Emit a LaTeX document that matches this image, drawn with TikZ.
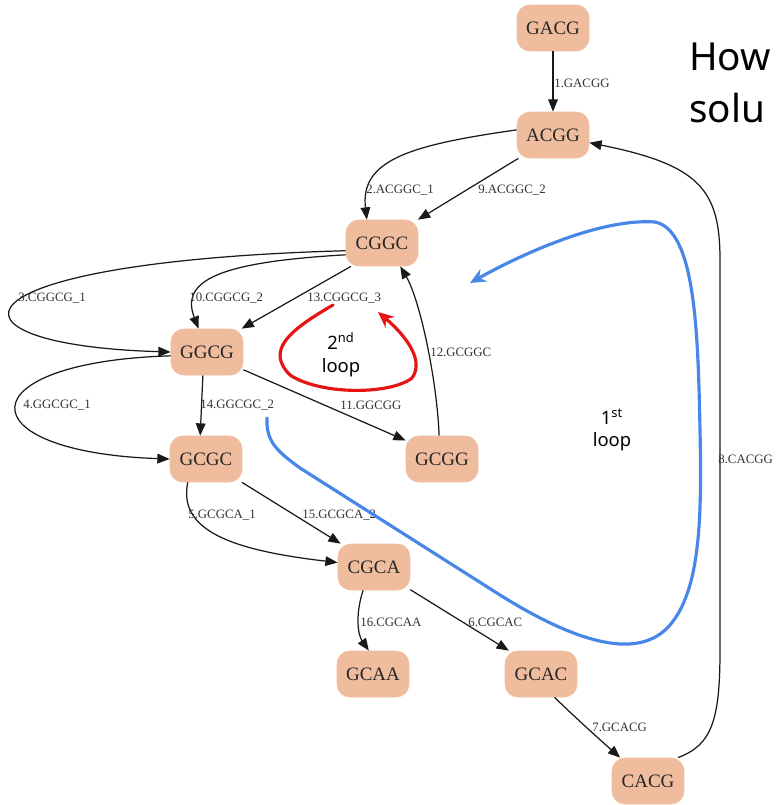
\documentclass[tikz,border=0pt]{standalone}
\usepackage{fontspec}
\setmainfont{Liberation Serif}
\newfontfamily\loopfont{Noto Sans}
\usepackage{xcolor}
\usetikzlibrary{arrows.meta}
\definecolor{kmerfill}{RGB}{239,188,158}
\definecolor{loopblue}{RGB}{72,134,232}
\definecolor{loopred}{RGB}{230,20,20}

\begin{document}
\begin{tikzpicture}[x=0.02cm, y=-0.02cm, >={Triangle[length=7pt,width=5.5pt]},
        kmer/.style={rectangle, rounded corners=0.26cm, fill=kmerfill, draw=kmerfill,
                     minimum width=1.44cm, minimum height=0.92cm, inner sep=0pt,
                     font=\fontsize{10.8}{12}\selectfont, text=black!85},
        edge/.style={->, line width=0.7pt, black!90},
        elabel/.style={anchor=west, inner sep=0pt, font=\fontsize{7.3}{8}\selectfont, text=black!80},
        loopnote/.style={font=\loopfont\fontsize{10.5}{13}\selectfont, align=center, inner sep=0pt},
        loopline/.style={line width=1.8pt, line cap=round, -{Stealth[length=9pt,width=8pt,inset=3pt]}},
        title/.style={anchor=base west, inner sep=0pt, font=\loopfont\fontsize{22}{26}\selectfont}]
        \useasboundingbox (0,0) rectangle (776,805);

        \node[kmer] (gacg) at (553,28)  {GACG};
        \node[kmer] (acgg) at (553,135) {ACGG};
        \node[kmer] (cggc) at (382,243) {CGGC};
        \node[kmer] (ggcg) at (207,352) {GGCG};
        \node[kmer] (gcgc) at (206,459) {GCGC};
        \node[kmer] (gcgg) at (442,459) {GCGG};
        \node[kmer] (cgca) at (374,567) {CGCA};
        \node[kmer] (gcaa) at (373,674) {GCAA};
        \node[kmer] (gcac) at (541,674) {GCAC};
        \node[kmer] (cacg) at (648,781) {CACG};

        \draw[edge] (gacg) -- (acgg);
        \draw[edge] (acgg.172) .. controls (410,145) and (360,160) .. (cggc.123);
        \draw[edge] (acgg.214) -- (cggc.33);
        \draw[edge] (cggc.192) .. controls (-60,262) and (-70,345) .. (ggcg.west);
        \draw[edge] (cggc.198) .. controls (220,262) and (180,280) .. (ggcg.110);
        \draw[edge] (cggc.217) -- (ggcg.34);
        \draw[edge] (ggcg.186) .. controls (-35,362) and (-35,452) .. (gcgc.west);
        \draw[edge] (ggcg.-100) -- (gcgc.104);
        \draw[edge] (ggcg.-26) -- (gcgg.153);
        \draw[edge] (gcgg.97) .. controls (437,380) and (420,300) .. (cggc.-52);
        \draw[edge] (gcgc.-128) .. controls (178,530) and (230,550) .. (cgca.173);
        \draw[edge] (gcgc.-33) -- (cgca.145);
        \draw[edge] (cgca.-115) .. controls (355,615) and (358,635) .. (gcaa.100);
        \draw[edge] (cgca.-32) -- (gcac.144);
        \draw[edge] (gcac.-60) .. controls (578,720) and (598,738) .. (cacg.140);
        \draw[edge] (cacg.38) .. controls (712,745) and (720,720) .. (720,650) -- (720,260)
                    .. controls (720,190) and (700,165) .. (acgg.-12);

        \node[elabel] (l1)  at (554,83)  {1.GACGG};
        \node[elabel] (l2)  at (366,190) {2.ACGGC\_1};
        \node[elabel] (l9)  at (478,190) {9.ACGGC\_2};
        \node[elabel] (l3)  at (18,298)  {3.CGGCG\_1};
        \node[elabel] (l10) at (189,298) {10.CGGCG\_2};
        \node[elabel] (l13) at (307,298) {13.CGGCG\_3};
        \node[elabel] (l12) at (430,352) {12.GCGGC};
        \node[elabel] (l4)  at (23,405)  {4.GGCGC\_1};
        \node[elabel] (l14) at (200,405) {14.GGCGC\_2};
        \node[elabel] (l11) at (340,405) {11.GGCGG};
        \node[elabel] (l8)  at (718,459) {8.CACGG};
        \node[elabel] (l5)  at (188,515) {5.GCGCA\_1};
        \node[elabel] (l15) at (302,515) {15.GCGCA\_2};
        \node[elabel] (l16) at (360,622) {16.CGCAA};
        \node[elabel] (l6)  at (468,622) {6.CGCAC};
        \node[elabel] (l7)  at (592,727) {7.GCACG};

        \draw[loopline, loopred] (333,305) .. controls (290,330) and (265,350) .. (290,375)
                    .. controls (320,395) and (390,395) .. (412,378)
                    .. controls (425,360) and (405,335) .. (378,312);
        \draw[loopline, loopblue] (267,418) .. controls (266,440) and (275,450) .. (300,468)
                    -- (500,595) .. controls (580,645) and (640,660) .. (670,625)
                    .. controls (700,590) and (702,520) .. (700,430)
                    .. controls (698,330) and (695,230) .. (655,222)
                    .. controls (600,218) and (520,255) .. (470,283);

        \node[loopnote] (loop2) at (341,355) {2\textsuperscript{nd}\\loop};
        \node[loopnote] (loop1) at (612,430) {1\textsuperscript{st}\\loop};

        \node[title] (how)  at (689,70)  {How};
        \node[title] (solu) at (689,122) {solu};
    \end{tikzpicture}
\end{document}
